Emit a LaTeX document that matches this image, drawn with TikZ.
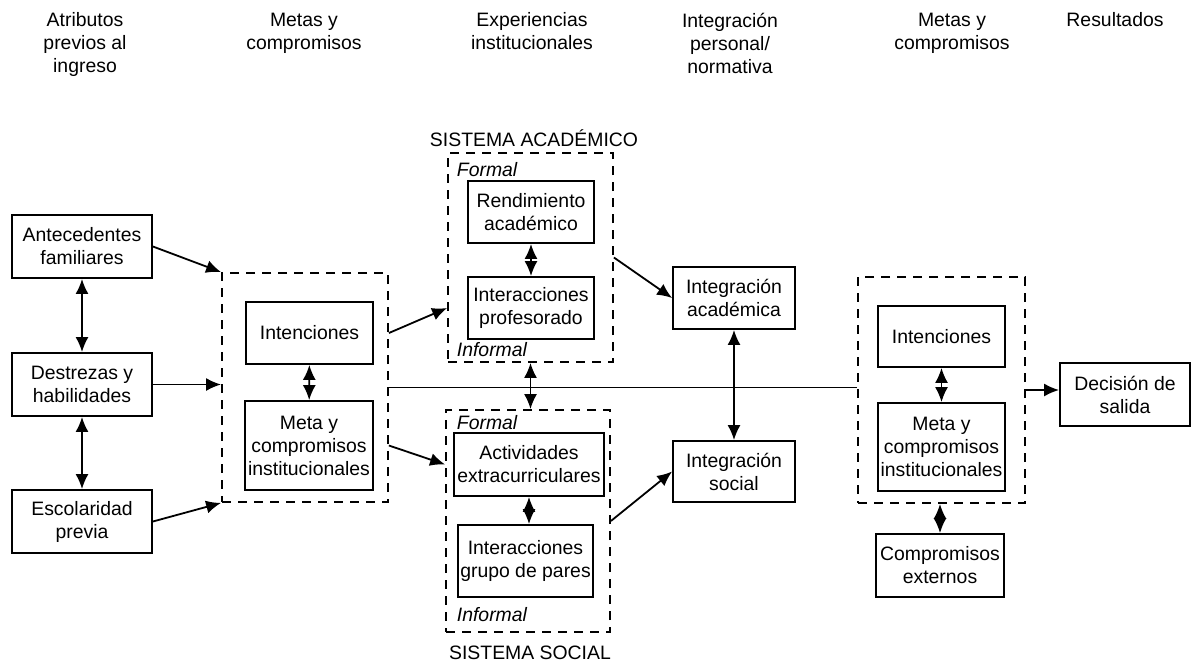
\documentclass[tikz,border=0pt]{standalone}
\usepackage{fontspec}
\setmainfont{Liberation Sans}
\usetikzlibrary{arrows.meta}

\tikzset{
  box/.style={draw, line width=0.9pt, align=center, inner sep=1pt,
    minimum width=70pt, minimum height=31.5pt},
  group/.style={draw, line width=0.9pt, dash pattern=on 4.5pt off 3.5pt},
  header/.style={align=center, anchor=north, inner sep=0pt},
  txt/.style={font=\fontsize{9.7pt}{11.5pt}\selectfont}
}

\begin{document}
\begin{tikzpicture}[x=0.5pt, y=-0.5pt, line width=0.9pt, every node/.style={txt},
    >={Latex[length=7.5pt,width=6.5pt]}]

        % Page frame (keeps the margins of the original)
        \useasboundingbox (0,0) rectangle (1199,665);

        % Column headers
        \node[header] (hatr) at (85,12)   {Atributos\\previos al\\ingreso};
        \node[header] (hmet) at (304,12)  {Metas y\\compromisos};
        \node[header] (hexp) at (532,12)  {Experiencias\\institucionales};
        \node[header] (hint) at (730,12)  {Integración\\personal/\\normativa};
        \node[header] (hmet2) at (952,12) {Metas y\\compromisos};
        \node[header] (hres) at (1115,12) {Resultados};

        % Attributes prior to entry
        \node[box] (ant) at (82,246.5) {Antecedentes\\familiares};
        \node[box] (des) at (82,384.5) {Destrezas y\\habilidades};
        \node[box] (esc) at (82,521.5) {Escolaridad\\previa};

        % First goals and commitments
        \node[group, minimum width=83pt, minimum height=114.5pt] (grpa) at (305,387.5) {};
        \node[box, minimum width=63.5pt, minimum height=31pt] (inta) at (309.5,333) {Intenciones};
        \node[box, minimum width=64pt, minimum height=44.5pt] (meta) at (309,445.5) {Meta y\\compromisos\\institucionales};

        % Academic system
        \node[group, minimum width=82.5pt, minimum height=104.5pt] (acad) at (530.5,257.5) {};
        \node (acadlbl) at (534,138) {SISTEMA ACADÉMICO};
        \node[anchor=west, inner sep=0pt] (acadf) at (456,170) {\itshape Formal};
        \node[anchor=west, inner sep=0pt] (acadi) at (456,350) {\itshape Informal};
        \node[box, minimum width=63pt, minimum height=31pt] (rend) at (531,212) {Rendimiento\\académico};
        \node[box, minimum width=63pt, minimum height=31pt] (iprof) at (531,308) {Interacciones\\profesorado};

        % Social system
        \node[group, minimum width=82pt, minimum height=111pt] (soc) at (528,521) {};
        \node (soclbl) at (530,653) {SISTEMA SOCIAL};
        \node[anchor=west, inner sep=0pt] (socf) at (456,423) {\itshape Formal};
        \node[anchor=west, inner sep=0pt] (soci) at (456,615) {\itshape Informal};
        \node[box, minimum width=75pt] (activ) at (529,464.5) {Actividades\\extracurriculares};
        \node[box, minimum width=66.5pt, minimum height=36pt] (ipares) at (525.5,561) {Interacciones\\grupo de pares};

        % Integration
        \node[box, minimum width=61pt, minimum height=31pt] (iacad) at (734,298) {Integración\\académica};
        \node[box, minimum width=61pt, minimum height=30.5pt] (isoc) at (734,471.5) {Integración\\social};

        % Second goals and commitments
        \node[group, minimum width=83.5pt, minimum height=113pt] (grpb) at (941.5,390) {};
        \node[box, minimum width=63.5pt, minimum height=30.5pt] (intb) at (941.5,336.5) {Intenciones};
        \node[box, minimum width=63.5pt, minimum height=44pt] (metb) at (941.5,447) {Meta y\\compromisos\\institucionales};
        \node[box, minimum width=64pt] (cext) at (940,565.5) {Compromisos\\externos};

        % Outcome
        \node[box, minimum width=65pt] (dec) at (1125,394.5) {Decisión de\\salida};

        % Arrows between the attributes
        \draw[<->] (ant) -- (des);
        \draw[<->] (des) -- (esc);

        % Arrows into the first group
        \draw[->] (ant.east) -- (grpa.north west);
        \draw[->] (des.east) -- (des.east -| grpa.west);
        \draw[->] (esc.east) -- (grpa.south west);
        \draw[<->] (inta) -- (meta);

        % Arrows into the two systems
        \draw[->] (inta -| grpa.east) -- (iprof.west -| acad.west);
        \draw[->] (meta -| grpa.east) -- (activ -| soc.west);
        \draw[<->] (rend) -- (iprof);
        \draw[<->] (activ.south) -- (activ.south |- ipares.north);
        \draw[<->] (acad.south) -- (acad.south |- soc.north);

        % Long line across the middle
        \draw (grpa.east) -- (grpa.east -| grpb.west);

        % Arrows into integration
        \draw[->] (acad.east) -- (iacad.west);
        \draw[->] (soc.east) -- (isoc.west);
        \draw[<->] (iacad) -- (isoc);

        % Second group and outcome
        \draw[<->] (intb) -- (metb);
        \draw[<->] (grpb.south -| cext.north) -- (cext.north);
        \draw[->] (grpb.east) -- (grpb.east -| dec.west);

    \end{tikzpicture}
\end{document}
